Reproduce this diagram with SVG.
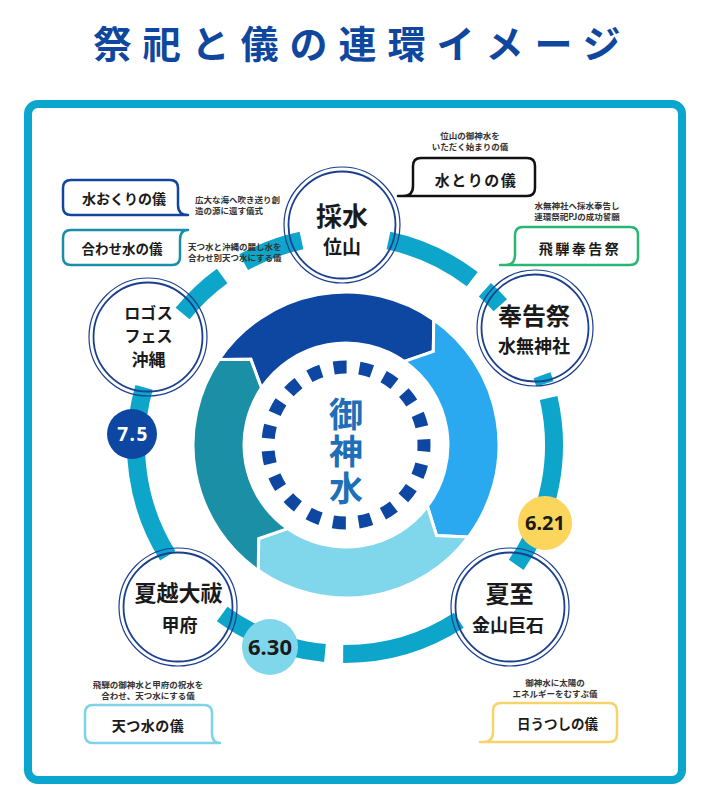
<svg xmlns="http://www.w3.org/2000/svg" width="707" height="796" viewBox="0 0 707 796">
<defs>
<style>
.jp{font-family:"Noto Sans CJK JP","Noto Sans",sans-serif;font-weight:700;}
.ring{fill:none;stroke:#0ea5cb;stroke-width:18;}
.nodeo{fill:none;stroke:#1b3f8f;stroke-width:1.2;}
.nodei{fill:none;stroke:#1b3f8f;stroke-width:1.8;}
.tx{fill:#1a1a1a;text-anchor:middle;}
.desc{font-size:8.5px;fill:#333;}
.box{fill:none;stroke-width:2.5;stroke-linejoin:round;stroke-linecap:round;}
.seg{stroke:#fff;stroke-width:3;stroke-linejoin:miter;}
.num{font-family:"Noto Sans","Open Sans",sans-serif;font-weight:700;text-anchor:middle;}
</style>
</defs>
<rect width="707" height="796" fill="#fff"/>
<text class="jp" x="362.5" y="58" font-size="38" fill="#0f479f" text-anchor="middle" letter-spacing="11">祭祀と儀の連環イメージ</text>
<rect x="28" y="104" width="654" height="676" rx="10" fill="none" stroke="#0ba6cd" stroke-width="8"/>

<g id="cycle">
<path class="seg" fill="#0d47a1" d="M219.16 359.44 A153 153 0 0 1 433.76 319.66 L433.30 351.38 L404.51 361.44 A102 102 0 0 0 261.44 387.96 L250.88 359.36 Z"/>
<path class="seg" fill="#2aa9f0" d="M433.76 319.66 A153 153 0 0 1 468.19 537.08 L436.51 535.51 L427.46 506.38 A102 102 0 0 0 404.51 361.44 L433.30 351.38 Z"/>
<path class="seg" fill="#80d7eb" d="M468.19 537.08 A153 153 0 0 1 258.24 570.34 L258.70 538.62 L287.49 528.56 A102 102 0 0 0 427.46 506.38 L436.51 535.51 Z"/>
<path class="seg" fill="#1a8fa6" d="M258.24 570.34 A153 153 0 0 1 219.16 359.44 L250.88 359.36 L261.44 387.96 A102 102 0 0 0 287.49 528.56 L258.70 538.62 Z"/>
<circle cx="346" cy="445" r="78" fill="none" stroke="#0d47a1" stroke-width="13" stroke-dasharray="13 12.794" stroke-dashoffset="6.5"/>
<text class="jp" x="346" y="397" font-size="34" fill="#1e6fb7" writing-mode="vertical-rl" letter-spacing="3">御神水</text>
</g>

<g id="connectors">
<path class="ring" d="M388.46 240.57 A209 209 0 0 1 472.24 279.18"/>
<path class="ring" d="M484.85 289.69 A209 209 0 0 1 500.31 305.16"/>
<path class="ring" d="M542.00 375.24 A209 209 0 0 1 544.87 383.89"/>
<path class="ring" d="M548.65 397.98 A209 209 0 0 1 516.21 564.88"/>
<path class="ring" d="M458.83 620.29 A209 209 0 0 1 343.18 653.99"/>
<path class="ring" d="M324.97 653.04 A209 209 0 0 1 222.15 614.09"/>
<path class="ring" d="M167.77 555.75 A209 209 0 0 1 144.09 387.39"/>
<path class="ring" d="M182.59 313.48 A209 209 0 0 1 222.15 275.91"/>
<path class="ring" d="M243.68 262.21 A209 209 0 0 1 301.54 240.57"/>
</g>

<g id="node-saisui">
<circle class="nodeo" cx="342" cy="225" r="58"/>
<circle class="nodei" cx="342" cy="225" r="53.5"/>
<text class="jp tx" x="342" y="226" font-size="26">採水</text>
<text class="jp tx" x="342" y="254" font-size="19">位山</text>
</g>
<g id="node-hokokusai">
<circle class="nodeo" cx="535" cy="328" r="58"/>
<circle class="nodei" cx="535" cy="328" r="53.5"/>
<text class="jp tx" x="534" y="325" font-size="24">奉告祭</text>
<text class="jp tx" x="534" y="353" font-size="18">水無神社</text>
</g>
<g id="node-geshi">
<circle class="nodeo" cx="510" cy="607" r="59"/>
<circle class="nodei" cx="510" cy="607" r="54.5"/>
<text class="jp tx" x="509.5" y="603" font-size="24">夏至</text>
<text class="jp tx" x="508" y="632" font-size="18">金山巨石</text>
</g>
<g id="node-nagoshi">
<circle class="nodeo" cx="178" cy="607" r="59"/>
<circle class="nodei" cx="178" cy="607" r="54.5"/>
<text class="jp tx" x="178.5" y="601" font-size="22">夏越大祓</text>
<text class="jp tx" x="179.5" y="632" font-size="18">甲府</text>
</g>
<g id="node-logos">
<circle class="nodeo" cx="148" cy="337" r="59"/>
<circle class="nodei" cx="148" cy="337" r="54.5"/>
<text class="jp tx" font-size="16"><tspan x="148.5" y="319">ロゴス</tspan><tspan x="148.5" y="342">フェス</tspan><tspan x="148.5" y="366" font-size="17">沖縄</tspan></text>
</g>

<g id="badge-75">
<circle cx="132" cy="434" r="25" fill="#0d47a1"/>
<text class="num" x="133" y="441" font-size="19" fill="#fff" letter-spacing="1.5">7.5</text>
</g>
<g id="badge-621">
<circle cx="545" cy="523" r="27" fill="#fcd55c"/>
<text class="num" x="545" y="530" font-size="20" fill="#1a1a1a">6.21</text>
</g>
<g id="badge-630">
<circle cx="270" cy="647" r="28" fill="#80d7eb"/>
<text class="num" x="270" y="655" font-size="22" fill="#1a1a1a">6.30</text>
</g>

<g id="callout-mizuokuri">
<path class="box" stroke="#15449c" d="M188 215 L71 215 Q63 215 63 207 L63 188 Q63 180 71 180 L170 180 Q178 180 178 188 L178 205 Q178 215 188 215"/>
<text class="jp tx" x="124" y="204" font-size="14">水おくりの儀</text>
<text class="jp desc" x="195" y="203">広大な海へ吹き送り創</text>
<text class="jp desc" x="195" y="214">造の源に還す儀式</text>
</g>
<g id="callout-awasemizu">
<path class="box" stroke="#1a8ea7" d="M188 230 L71 230 Q63 230 63 238 L63 257 Q63 265 71 265 L172 265 Q180 265 180 257 L180 240 Q180 230 188 230"/>
<text class="jp tx" x="122" y="254" font-size="13.5">合わせ水の儀</text>
<text class="jp desc" x="188" y="249.5">天つ水と沖縄の麗し水を</text>
<text class="jp desc" x="188" y="260.5">合わせ別天つ水にする儀</text>
</g>
<g id="callout-mizutori">
<path class="box" stroke="#111" d="M398 196 L527 196 Q535 196 535 188 L535 166 Q535 158 527 158 L421 158 Q413 158 413 166 L413 186 Q413 196 403 196"/>
<text class="jp tx" x="476" y="186" font-size="15" letter-spacing="1.5">水とりの儀</text>
<text class="jp desc" x="470" y="139" text-anchor="middle">位山の御神水を</text>
<text class="jp desc" x="470" y="150" text-anchor="middle">いただく始まりの儀</text>
</g>
<g id="callout-hida">
<path class="box" stroke="#2bb673" d="M500 265 L630 265 Q638 265 638 257 L638 235 Q638 227 630 227 L523 227 Q515 227 515 235 L515 255 Q515 265 505 265"/>
<text class="jp tx" x="580" y="254" font-size="14" letter-spacing="2.5">飛騨奉告祭</text>
<text class="jp desc" x="577" y="209" text-anchor="middle">水無神社へ採水奉告し</text>
<text class="jp desc" x="577" y="220" text-anchor="middle">連環祭祀PJの成功誓願</text>
</g>
<g id="callout-amatsumizu">
<path class="box" stroke="#7fd3e8" d="M220 743 L93 743 Q85 743 85 735 L85 713 Q85 705 93 705 L204 705 Q212 705 212 713 L212 733 Q212 743 220 743"/>
<text class="jp tx" x="148" y="731" font-size="14" letter-spacing="0.5">天つ水の儀</text>
<text class="jp desc" x="148" y="688" text-anchor="middle">飛騨の御神水と甲府の祝水を</text>
<text class="jp desc" x="148" y="699" text-anchor="middle">合わせ、天つ水にする儀</text>
</g>
<g id="callout-hiutsushi">
<path class="box" stroke="#f6d46a" d="M480 742 L609 742 Q617 742 617 734 L617 711 Q617 703 609 703 L501 703 Q493 703 493 711 L493 732 Q493 742 483 742"/>
<text class="jp tx" x="557.5" y="729" font-size="13.5">日うつしの儀</text>
<text class="jp desc" x="555" y="686" text-anchor="middle">御神水に太陽の</text>
<text class="jp desc" x="555" y="697" text-anchor="middle">エネルギーをむすぶ儀</text>
</g>
</svg>
